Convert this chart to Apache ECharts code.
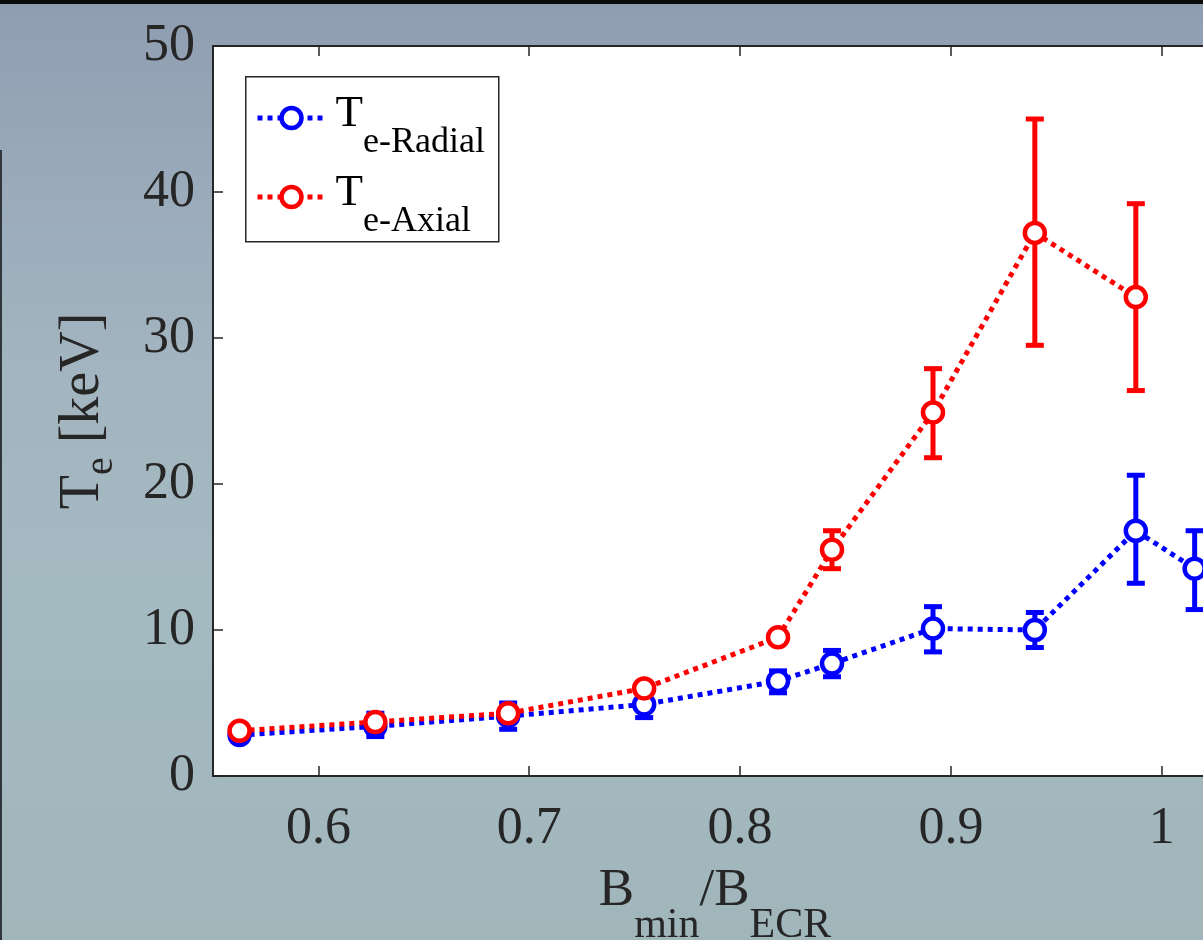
<!DOCTYPE html>
<html>
<head>
<meta charset="utf-8">
<script src="https://cdn.jsdelivr.net/npm/echarts@6/dist/echarts.min.js"></script>
<style>
html, body { margin:0; padding:0; width:1203px; height:940px; overflow:hidden; }
body {
  position:relative;
  background: linear-gradient(180deg, #8f9db0 0%, #99a9b9 18%, #a3b5c0 40%, #a4bac1 65%, #a0b6bb 100%);
}
#topband { position:absolute; left:0; top:0; width:100%; height:4px; background:#0b0b0b; }
#leftline { position:absolute; left:0; top:150px; width:2px; height:790px; background:#30363b; }
#chart { position:absolute; left:0; top:0; width:1240px; height:940px; }
</style>
</head>
<body>
<div id="topband"></div>
<div id="leftline"></div>
<div id="chart"></div>
<script>
// B_min / B_ECR
const xRatio = [0.5626, 0.627, 0.690, 0.7545, 0.818, 0.8436, 0.8915, 0.9398, 0.9877, 1.0156];
const xTicks = [0.6, 0.7, 0.8, 0.9, 1.0];

// radial Te [keV] + error bar ends
const radialTe   = [2.8, 3.4, 4.1, 4.9, 6.5, 7.7, 10.1, 10.0, 16.8, 14.2];
const radialLow  = [2.5, 2.7, 3.2, 4.0, 5.7, 6.8, 8.5, 8.8, 13.2, 11.4];
const radialHigh = [3.1, 4.3, 5.0, 5.5, 7.2, 8.6, 11.6, 11.2, 20.6, 16.8];

// axial Te [keV] + error bar ends
const axialTe   = [3.1, 3.7, 4.3, 6.0, 9.5, 15.5, 24.9, 37.2, 32.8];
const axialLow  = [2.9, 3.5, 4.1, 5.7, 9.2, 14.2, 21.8, 29.5, 26.4];
const axialHigh = [3.3, 3.9, 4.5, 6.3, 9.8, 16.8, 27.9, 45.0, 39.2];

const SERIF = "'Liberation Serif', 'Times New Roman', serif";
const INK = "#262626";
const BLUE = "#0000ff";
const RED = "#ff0000";

function pairs(xs, ys){ return ys.map((y,i)=>[xs[i], y]); }
function triples(xs, lo, hi){ return lo.map((l,i)=>[xs[i], l, hi[i]]); }

function errBars(color){
  return function(params, api){
    const x = api.value(0);
    const pLo = api.coord([x, api.value(1)]);
    const pHi = api.coord([x, api.value(2)]);
    const hw = 9;
    const st = { stroke: color, lineWidth: 5 };
    return {
      type: "group",
      children: [
        { type:"line", shape:{ x1:pLo[0], y1:pLo[1], x2:pHi[0], y2:pHi[1] }, style: st },
        { type:"line", shape:{ x1:pLo[0]-hw, y1:pLo[1], x2:pLo[0]+hw, y2:pLo[1] }, style: st },
        { type:"line", shape:{ x1:pHi[0]-hw, y1:pHi[1], x2:pHi[0]+hw, y2:pHi[1] }, style: st }
      ]
    };
  };
}

function lineSeries(name, data, color){
  return {
    name: name,
    type: "line",
    data: data,
    symbol: "circle",
    symbolSize: 20,
    lineStyle: { color: color, width: 5, type: [5, 5] },
    itemStyle: { color: "#fff", borderColor: color, borderWidth: 4.5 },
    emphasis: { disabled: true },
    z: 2
  };
}

const chart = echarts.init(document.getElementById("chart"));

const tickStyle = { show:true, inside:true, length:10, lineStyle:{ color:INK, width:1.5 } };

chart.setOption({
  animation: false,
  backgroundColor: "transparent",
  grid: {
    left: 213, top: 46, right: 15, bottom: 164,
    outerBoundsMode: "none",
    show: true, backgroundColor: "#fff", borderWidth: 0
  },
  graphic: [{
    type: "rect", left: 245, top: 76, z: 3,
    shape: { width: 253, height: 165 },
    style: { fill: "#fff", stroke: INK, lineWidth: 1.5 }
  }],
  legend: {
    orient: "vertical",
    left: 255, top: 92,
    padding: 0,
    itemGap: 10,
    itemWidth: 68, itemHeight: 25,
    z: 5,
    data: ["radial", "axial"],
    lineStyle: { width: 5, type: [5, 5] },
    itemStyle: { borderWidth: 4.5 },
    formatter: n => n === "radial" ? "{t|T}{s|e-Radial}" : "{t|T}{s|e-Axial}",
    textStyle: {
      color: "#000",
      rich: {
        t: { fontFamily: SERIF, fontSize: 45, lineHeight: 52, verticalAlign: "top", color:"#000", padding:[0,0,0,5] },
        s: { fontFamily: SERIF, fontSize: 36, lineHeight: 36, verticalAlign: "top", color:"#000", padding:[33,0,0,0] }
      }
    }
  },
  xAxis: [{
    type: "value", min: 0.55, max: 1.03,
    position: "bottom",
    axisLine: { show:true, lineStyle:{ color:INK, width:2 } },
    axisTick: Object.assign({ customValues: xTicks }, tickStyle),
    axisLabel: {
      customValues: xTicks, margin: 27,
      fontFamily: SERIF, fontSize: 52, color: INK,
      formatter: v => String(+Number(v).toFixed(2))
    },
    splitLine: { show:false },
    name: "{b|B}{s|min}{b|/B}{e|ECR}",
    nameLocation: "middle",
    nameGap: 89,
    nameTextStyle: {
      rich: {
        b: { fontFamily: SERIF, fontSize: 53, lineHeight: 56, verticalAlign: "top", color: INK },
        s: { fontFamily: SERIF, fontSize: 42, lineHeight: 40, verticalAlign: "top", color: INK, padding:[40,0,0,0] },
        e: { fontFamily: SERIF, fontSize: 42, lineHeight: 40, verticalAlign: "top", color: INK, padding:[40,8,0,0] }
      }
    }
  }, {
    type: "value", min: 0.55, max: 1.03,
    position: "top",
    axisLine: { show:true, lineStyle:{ color:INK, width:2 } },
    axisTick: Object.assign({ customValues: xTicks }, tickStyle),
    axisLabel: { show:false },
    splitLine: { show:false }
  }],
  yAxis: {
    type: "value", min: 0, max: 50, interval: 10,
    axisLine: { show:true, lineStyle:{ color:INK, width:2 } },
    axisTick: tickStyle,
    axisLabel: { margin: 18, fontFamily: SERIF, fontSize: 52, color: INK },
    splitLine: { show:false },
    name: "{t|T}{s|e}{t| [keV]}",
    nameLocation: "middle",
    nameRotate: 90,
    nameGap: 102,
    nameTextStyle: {
      rich: {
        t: { fontFamily: SERIF, fontSize: 56, lineHeight: 56, verticalAlign: "top", color: INK },
        s: { fontFamily: SERIF, fontSize: 40, lineHeight: 40, verticalAlign: "top", color: INK, padding:[26,0,0,0] }
      }
    }
  },
  series: [
    lineSeries("radial", pairs(xRatio, radialTe), BLUE),
    {
      name: "radialErr", type: "custom", z: 2,
      renderItem: errBars(BLUE),
      data: triples(xRatio, radialLow, radialHigh)
    },
    lineSeries("axial", pairs(xRatio, axialTe), RED),
    {
      name: "axialErr", type: "custom", z: 2,
      renderItem: errBars(RED),
      data: triples(xRatio, axialLow, axialHigh)
    }
  ]
});
</script>
</body>
</html>
